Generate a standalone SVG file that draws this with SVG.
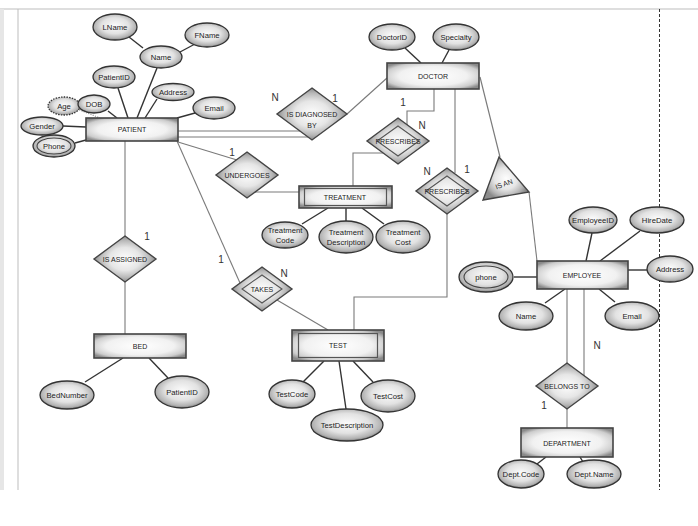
<svg xmlns="http://www.w3.org/2000/svg" width="698" height="526" viewBox="0 0 698 526">
<defs>
<radialGradient id="gEnt" cx="0.5" cy="0.5" r="0.62">
<stop offset="0" stop-color="#ffffff"/>
<stop offset="0.6" stop-color="#f1f1f1"/>
<stop offset="0.85" stop-color="#cdcdcd"/>
<stop offset="1" stop-color="#8a8a8a"/>
</radialGradient>
<radialGradient id="gAttr" cx="0.5" cy="0.45" r="0.56">
<stop offset="0" stop-color="#fbfbfb"/>
<stop offset="0.55" stop-color="#e2e2e2"/>
<stop offset="0.85" stop-color="#b3b3b3"/>
<stop offset="1" stop-color="#7a7a7a"/>
</radialGradient>
<radialGradient id="gRel" cx="0.5" cy="0.5" r="0.5">
<stop offset="0" stop-color="#fdfdfd"/>
<stop offset="0.5" stop-color="#e6e6e6"/>
<stop offset="0.8" stop-color="#b8b8b8"/>
<stop offset="1" stop-color="#8c8c8c"/>
</radialGradient>
</defs>
<style>
.ent{fill:url(#gEnt);stroke:#444;stroke-width:1.6}
.inner{fill:none;stroke:#555;stroke-width:1.2}
.attr{fill:url(#gAttr);stroke:#333;stroke-width:1.3}
.rel{fill:url(#gRel);stroke:#444;stroke-width:1.4}
.relin{fill:none;stroke:#555;stroke-width:1.1}
.t{font-family:"Liberation Sans",Arial,sans-serif;font-size:7px;fill:#222;text-anchor:middle;dominant-baseline:central}
.ta{font-family:"Liberation Sans",Arial,sans-serif;font-size:7.7px;fill:#222;text-anchor:middle;dominant-baseline:central}
.card{font-family:"Liberation Sans",Arial,sans-serif;font-size:10px;fill:#333;text-anchor:middle;dominant-baseline:central}
.conn line,.conn polyline{fill:none;stroke:#7a7a7a;stroke-width:1.1}
.conn .a{stroke:#333;stroke-width:1.4}
.conn .dot{stroke:#999;stroke-width:1.2;stroke-dasharray:1.2 1.2}
</style>
<!-- frame -->
<g id="frame">
<line x1="0" y1="9" x2="698" y2="9" stroke="#bdbdbd" stroke-width="1"/>
<rect x="0" y="9" width="4" height="481" fill="#e6e6e6"/>
<line x1="18" y1="9" x2="18" y2="490" stroke="#bdbdbd" stroke-width="1"/>
<line x1="659.5" y1="9" x2="659.5" y2="490" stroke="#333" stroke-width="1" stroke-dasharray="3 2"/>
</g>
<!-- connectors -->
<g id="connectors" class="conn">
<line x1="178" y1="131" x2="300" y2="131"/>
<line x1="178" y1="137" x2="308" y2="137"/>
<line x1="347" y1="114" x2="387" y2="78"/>
<polyline points="434,89 434,111 407,111 407,125"/>
<polyline points="383,153 353,153 353,186"/>
<line x1="455" y1="89" x2="455" y2="173"/>
<polyline points="447,214 447,297 354,297 354,330"/>
<line x1="178" y1="142" x2="237" y2="160"/>
<line x1="255" y1="192" x2="299" y2="192"/>
<line x1="177" y1="141" x2="240" y2="283"/>
<line x1="277" y1="300" x2="328" y2="330"/>
<line x1="125" y1="141" x2="125" y2="236"/>
<line x1="125" y1="282" x2="125" y2="334"/>
<line x1="480" y1="77" x2="500" y2="157"/>
<line x1="529" y1="192" x2="537" y2="261"/>
<line x1="567" y1="289" x2="567" y2="363"/>
<line x1="584" y1="289" x2="584" y2="376"/>
<line x1="567" y1="409" x2="567" y2="428"/>
<!-- attribute lines -->
<line class="a" x1="129" y1="37" x2="143" y2="48"/>
<line class="a" x1="180" y1="52" x2="195" y2="44"/>
<line class="a" x1="157" y1="68" x2="137" y2="118"/>
<line class="a" x1="118" y1="88" x2="128" y2="118"/>
<line class="a" x1="157" y1="99" x2="145" y2="118"/>
<line class="a" x1="195" y1="113" x2="177" y2="118"/>
<line class="a" x1="108" y1="111" x2="117" y2="118"/>
<line class="dot" x1="77" y1="109" x2="100" y2="118"/>
<line class="a" x1="63" y1="126" x2="86" y2="127"/>
<line class="a" x1="75" y1="143" x2="86" y2="140"/>
<line class="a" x1="405" y1="48" x2="421" y2="63"/>
<line class="a" x1="449" y1="50" x2="442" y2="63"/>
<line class="a" x1="328" y1="208" x2="302" y2="224"/>
<line class="a" x1="346" y1="208" x2="346" y2="222"/>
<line class="a" x1="362" y1="208" x2="384" y2="224"/>
<line class="a" x1="324" y1="361" x2="303" y2="382"/>
<line class="a" x1="339" y1="361" x2="346" y2="409"/>
<line class="a" x1="353" y1="361" x2="373" y2="382"/>
<line class="a" x1="123" y1="358" x2="85" y2="382"/>
<line class="a" x1="149" y1="358" x2="168" y2="378"/>
<line class="a" x1="592" y1="233" x2="586" y2="261"/>
<line class="a" x1="640" y1="231" x2="600" y2="261"/>
<line class="a" x1="628" y1="270" x2="648" y2="270"/>
<line class="a" x1="599" y1="289" x2="615" y2="302"/>
<line class="a" x1="565" y1="289" x2="545" y2="303"/>
<line class="a" x1="514" y1="277" x2="537" y2="277"/>
<line class="a" x1="546" y1="457" x2="537" y2="464"/>
<line class="a" x1="580" y1="457" x2="583" y2="462"/>
</g>
<!-- cardinalities -->
<g id="cardinalities">
<text class="card" x="275" y="97">N</text>
<text class="card" x="335" y="98">1</text>
<text class="card" x="403" y="102">1</text>
<text class="card" x="422" y="125">N</text>
<text class="card" x="232" y="152">1</text>
<text class="card" x="467" y="169">1</text>
<text class="card" x="427" y="171">N</text>
<text class="card" x="147" y="236">1</text>
<text class="card" x="221" y="259">1</text>
<text class="card" x="284" y="273">N</text>
<text class="card" x="597" y="345">N</text>
<text class="card" x="544" y="405">1</text>
</g>
<!-- PATIENT -->
<g id="patient">
<rect class="ent" x="86" y="118" width="92" height="23"/>
<text class="t" x="132" y="129.5">PATIENT</text>
</g>
<g id="lname"><ellipse class="attr" cx="115" cy="27" rx="22" ry="13"/><text class="ta" x="115" y="27">LName</text></g>
<g id="fname"><ellipse class="attr" cx="207" cy="35" rx="22" ry="12"/><text class="ta" x="207" y="35">FName</text></g>
<g id="name"><ellipse class="attr" cx="161" cy="57" rx="21" ry="11"/><text class="ta" x="161" y="57">Name</text></g>
<g id="patientid"><ellipse class="attr" cx="114" cy="77" rx="21" ry="11"/><text class="ta" x="114" y="77">PatientID</text></g>
<g id="address"><ellipse class="attr" cx="173" cy="92" rx="21" ry="8.5"/><text class="ta" x="173" y="92">Address</text></g>
<g id="email"><ellipse class="attr" cx="214" cy="108" rx="21" ry="11"/><text class="ta" x="214" y="108">Email</text></g>
<g id="age"><ellipse class="attr" cx="64" cy="106" rx="16" ry="9" stroke="#999" stroke-dasharray="1.5 1.2"/><text class="ta" x="64" y="106">Age</text></g>
<g id="dob"><ellipse class="attr" cx="94" cy="104" rx="16" ry="9"/><text class="ta" x="94" y="104">DOB</text></g>
<g id="gender"><ellipse class="attr" cx="42" cy="126" rx="21" ry="9"/><text class="ta" x="42" y="126">Gender</text></g>
<g id="phone"><ellipse class="attr" cx="54" cy="146" rx="21" ry="11"/><ellipse cx="54" cy="146" rx="17" ry="8" fill="none" stroke="#444" stroke-width="1.1"/><text class="ta" x="54" y="146">Phone</text></g>
<!-- DOCTOR -->
<g id="doctor">
<rect class="ent" x="387" y="63" width="92" height="26"/>
<text class="t" x="433" y="76">DOCTOR</text>
</g>
<g id="doctorid"><ellipse class="attr" cx="392" cy="37" rx="23" ry="13"/><text class="ta" x="392" y="37">DoctorID</text></g>
<g id="specialty"><ellipse class="attr" cx="456" cy="37" rx="23" ry="13"/><text class="ta" x="456" y="37">Specialty</text></g>
<!-- relationships -->
<g id="isdiagnosedby">
<polygon class="rel" points="312,88 347,114 312,140 277,114"/>
<text class="t" x="312" y="114">IS DIAGNOSED</text>
<text class="t" x="312" y="125">BY</text>
</g>
<g id="prescribes1">
<polygon class="rel" points="398,118 429,141 398,164 367,141"/>
<polygon class="relin" points="398,126 419,141 398,156 377,141"/>
<text class="t" x="398" y="141">PRESCRIBES</text>
</g>
<g id="prescribes2">
<polygon class="rel" points="447,168 478,191 447,214 416,191"/>
<polygon class="relin" points="447,176 468,191 447,206 426,191"/>
<text class="t" x="447" y="191">PRESCRIBES</text>
</g>
<g id="undergoes">
<polygon class="rel" points="247,152 278,175 247,198 216,175"/>
<text class="t" x="247" y="175">UNDERGOES</text>
</g>
<g id="takes">
<polygon class="rel" points="262,267 292,289 262,311 232,289"/>
<polygon class="relin" points="262,275 282,289 262,303 242,289"/>
<text class="t" x="262" y="289">TAKES</text>
</g>
<g id="isassigned">
<polygon class="rel" points="125,236 156,259 125,282 94,259"/>
<text class="t" x="125" y="259">IS ASSIGNED</text>
</g>
<g id="belongsto">
<polygon class="rel" points="567,363 598,386 567,409 536,386"/>
<text class="t" x="567" y="386">BELONGS TO</text>
</g>
<g id="isan">
<polygon class="rel" points="499,157 529,192 483,200"/>
<text class="t" x="504" y="184" transform="rotate(-20 504 184)">IS AN</text>
</g>
<!-- TREATMENT -->
<g id="treatment">
<rect class="ent" x="299" y="186" width="93" height="22"/>
<rect class="inner" x="304.5" y="188.5" width="82" height="17"/>
<text class="t" x="345" y="197">TREATMENT</text>
</g>
<g id="treatmentcode"><ellipse class="attr" cx="285" cy="235" rx="23" ry="13"/><text class="ta" x="285" y="230.5">Treatment</text><text class="ta" x="285" y="240">Code</text></g>
<g id="treatmentdesc"><ellipse class="attr" cx="346" cy="237" rx="27" ry="16"/><text class="ta" x="346" y="232.5">Treatment</text><text class="ta" x="346" y="242">Description</text></g>
<g id="treatmentcost"><ellipse class="attr" cx="403" cy="237" rx="27" ry="16"/><text class="ta" x="403" y="232.5">Treatment</text><text class="ta" x="403" y="242">Cost</text></g>
<!-- TEST -->
<g id="test">
<rect class="ent" x="292" y="330" width="92" height="31"/>
<rect class="inner" x="298.5" y="333.5" width="79" height="24"/>
<text class="t" x="338" y="345.5">TEST</text>
</g>
<g id="testcode"><ellipse class="attr" cx="292" cy="394" rx="23" ry="14"/><text class="ta" x="292" y="394">TestCode</text></g>
<g id="testdesc"><ellipse class="attr" cx="347" cy="425" rx="36" ry="16"/><text class="ta" x="347" y="425">TestDescription</text></g>
<g id="testcost"><ellipse class="attr" cx="388" cy="396" rx="27" ry="16"/><text class="ta" x="388" y="396">TestCost</text></g>
<!-- BED -->
<g id="bed">
<rect class="ent" x="94" y="334" width="92" height="24"/>
<text class="t" x="140" y="346">BED</text>
</g>
<g id="bednumber"><ellipse class="attr" cx="67" cy="395" rx="27" ry="14"/><text class="ta" x="67" y="395">BedNumber</text></g>
<g id="bedpatientid"><ellipse class="attr" cx="182" cy="392" rx="27" ry="16"/><text class="ta" x="182" y="392">PatientID</text></g>
<!-- EMPLOYEE -->
<g id="employee">
<rect class="ent" x="537" y="261" width="91" height="28"/>
<text class="t" x="582" y="275">EMPLOYEE</text>
</g>
<g id="employeeid"><ellipse class="attr" cx="593" cy="220" rx="24" ry="13"/><text class="ta" x="593" y="220">EmployeeID</text></g>
<g id="hiredate"><ellipse class="attr" cx="657" cy="220" rx="27" ry="13"/><text class="ta" x="657" y="220">HireDate</text></g>
<g id="empaddress"><ellipse class="attr" cx="670" cy="269" rx="23" ry="13"/><text class="ta" x="670" y="269">Address</text></g>
<g id="empemail"><ellipse class="attr" cx="632" cy="316" rx="27" ry="14"/><text class="ta" x="632" y="316">Email</text></g>
<g id="empname"><ellipse class="attr" cx="526" cy="316" rx="27" ry="14"/><text class="ta" x="526" y="316">Name</text></g>
<g id="empphone"><ellipse class="attr" cx="486" cy="277" rx="27" ry="15"/><ellipse cx="486" cy="277" rx="22" ry="11" fill="none" stroke="#444" stroke-width="1.1"/><text class="ta" x="486" y="277">phone</text></g>
<!-- DEPARTMENT -->
<g id="department">
<rect class="ent" x="521" y="428" width="92" height="29"/>
<text class="t" x="567" y="443">DEPARTMENT</text>
</g>
<g id="deptcode"><ellipse class="attr" cx="521" cy="474" rx="23" ry="14"/><text class="ta" x="521" y="474">Dept.Code</text></g>
<g id="deptname"><ellipse class="attr" cx="594" cy="474" rx="27" ry="14"/><text class="ta" x="594" y="474">Dept.Name</text></g>
</svg>
